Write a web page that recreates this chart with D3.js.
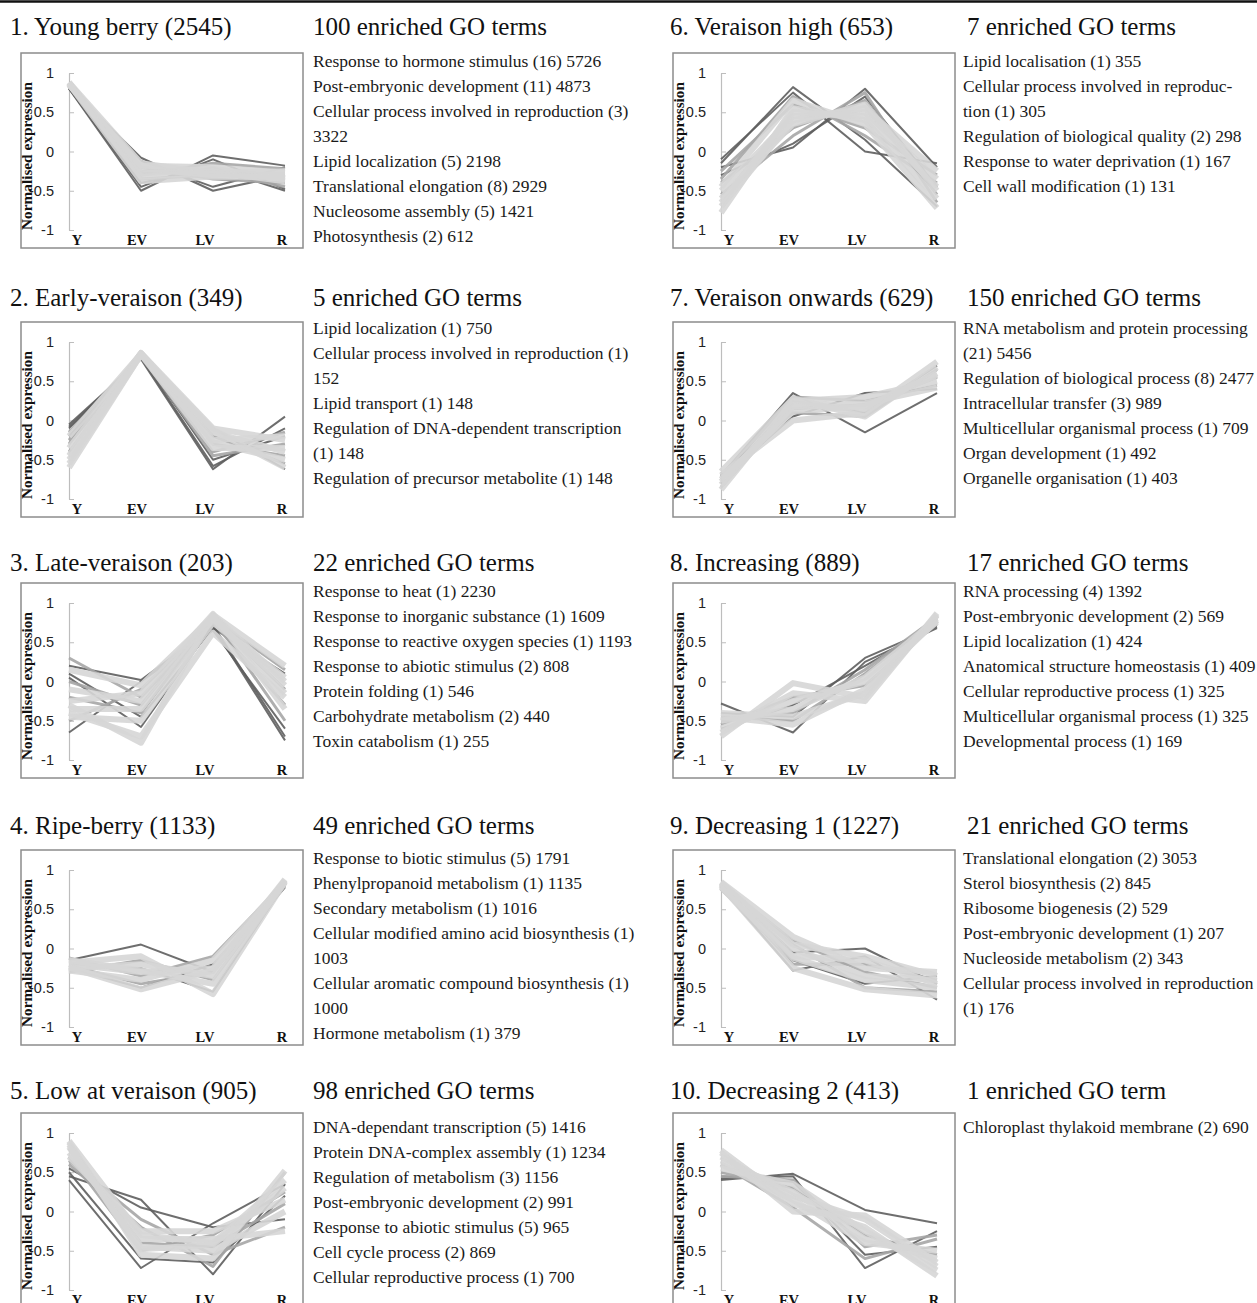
<!DOCTYPE html>
<html>
<head>
<meta charset="utf-8">
<script src="https://cdn.jsdelivr.net/npm/d3@7"></script>
<style>
html, body { margin: 0; padding: 0; background: #fff; overflow: hidden; }
svg { display: block; }
</style>
</head>
<body>
<svg id="chart"></svg>
<script>
'use strict';

// --- data ---
const stages = ['Y', 'EV', 'LV', 'R'];
const yTicks = [1, 0.5, 0, -0.5, -1];

const clusterNames = [
	'1. Young berry', '2. Early-veraison', '3. Late-veraison', '4. Ripe-berry', '5. Low at veraison',
	'6. Veraison high', '7. Veraison onwards', '8. Increasing', '9. Decreasing 1', '10. Decreasing 2'
];
const clusterSizes = [2545, 349, 203, 1133, 905, 653, 629, 889, 1227, 413];
const goCounts = [100, 5, 22, 49, 98, 7, 150, 17, 21, 1];

// '\n' marks where the original text wraps
const goTerms = [
	['Response to hormone stimulus (16) 5726', 'Post-embryonic development (11) 4873',
		'Cellular process involved in reproduction (3)\n3322', 'Lipid localization (5) 2198',
		'Translational elongation (8) 2929', 'Nucleosome assembly (5) 1421', 'Photosynthesis (2) 612'],
	['Lipid localization (1) 750', 'Cellular process involved in reproduction (1)\n152',
		'Lipid transport (1) 148', 'Regulation of DNA-dependent transcription\n(1) 148',
		'Regulation of precursor metabolite (1) 148'],
	['Response to heat (1) 2230', 'Response to inorganic substance (1) 1609',
		'Response to reactive oxygen species (1) 1193', 'Response to abiotic stimulus (2) 808',
		'Protein folding (1) 546', 'Carbohydrate metabolism (2) 440', 'Toxin catabolism (1) 255'],
	['Response to biotic stimulus (5) 1791', 'Phenylpropanoid metabolism (1) 1135',
		'Secondary metabolism (1) 1016', 'Cellular modified amino acid biosynthesis (1)\n1003',
		'Cellular aromatic compound biosynthesis (1)\n1000', 'Hormone metabolism (1) 379'],
	['DNA-dependant transcription (5) 1416', 'Protein DNA-complex assembly (1) 1234',
		'Regulation of metabolism (3) 1156', 'Post-embryonic development (2) 991',
		'Response to abiotic stimulus (5) 965', 'Cell cycle process (2) 869',
		'Cellular reproductive process (1) 700'],
	['Lipid localisation (1) 355', 'Cellular process involved in reproduc-\ntion (1) 305',
		'Regulation of biological quality (2) 298', 'Response to water deprivation (1) 167',
		'Cell wall modification (1) 131'],
	['RNA metabolism and protein processing\n(21) 5456', 'Regulation of biological process (8) 2477',
		'Intracellular transfer (3) 989', 'Multicellular organismal process (1) 709',
		'Organ development (1) 492', 'Organelle organisation (1) 403'],
	['RNA processing (4) 1392', 'Post-embryonic development (2) 569', 'Lipid localization (1) 424',
		'Anatomical structure homeostasis (1) 409', 'Cellular reproductive process (1) 325',
		'Multicellular organismal process (1) 325', 'Developmental process (1) 169'],
	['Translational elongation (2) 3053', 'Sterol biosynthesis (2) 845', 'Ribosome biogenesis (2) 529',
		'Post-embryonic development (1) 207', 'Nucleoside metabolism (2) 343',
		'Cellular process involved in reproduction\n(1) 176'],
	['Chloroplast thylakoid membrane (2) 690']
];

// expression profiles [Y, EV, LV, R]; outliers drawn dark, the bulk of genes light
const darkProfiles = [
	[[0.80, -0.50, -0.05, -0.18], [0.82, -0.08, -0.50, -0.30], [0.81, -0.45, -0.10, -0.48], [0.83, -0.12, -0.45, -0.20], [0.80, -0.40, -0.20, -0.50]],
	[[-0.05, 0.78, -0.62, 0.05], [-0.10, 0.80, -0.58, -0.10], [-0.20, 0.82, -0.50, -0.20], [-0.08, 0.80, -0.10, -0.62]],
	[[0.20, 0.02, 0.70, -0.75], [0.05, -0.58, 0.72, -0.70], [-0.65, 0.00, 0.65, -0.60], [0.10, -0.45, 0.68, 0.10]],
	[[-0.15, 0.05, -0.30, 0.78], [-0.25, -0.50, -0.20, 0.80], [-0.20, -0.25, -0.55, 0.82]],
	[[0.45, 0.15, -0.80, 0.35], [0.40, -0.72, -0.15, 0.35], [0.50, -0.60, -0.65, 0.20], [0.55, 0.05, -0.20, -0.10]],
	[[-0.20, 0.05, 0.80, -0.20], [-0.15, 0.82, 0.15, -0.70], [-0.30, 0.10, 0.70, -0.45], [-0.10, 0.75, 0.00, -0.15]],
	[[-0.70, 0.35, -0.15, 0.35], [-0.75, 0.05, 0.35, 0.40], [-0.80, 0.25, 0.10, 0.70]],
	[[-0.28, -0.65, 0.25, 0.68], [-0.40, -0.45, 0.30, 0.70], [-0.60, -0.30, 0.20, 0.72]],
	[[0.78, -0.28, -0.10, -0.65], [0.80, -0.05, 0.00, -0.45], [0.75, -0.15, -0.45, -0.35]],
	[[0.40, 0.48, 0.02, -0.15], [0.42, 0.45, -0.72, -0.25], [0.45, 0.38, -0.55, -0.45]]
];
const midProfiles = [
	[[0.85, -0.30, -0.15, -0.22], [0.86, -0.20, -0.35, -0.40], [0.84, -0.35, -0.30, -0.28], [0.87, -0.25, -0.25, -0.45]],
	[[-0.15, 0.83, -0.40, -0.15], [-0.30, 0.84, -0.30, -0.45], [-0.40, 0.83, -0.45, -0.30], [-0.25, 0.85, -0.20, -0.55]],
	[[0.30, -0.20, 0.75, -0.30], [-0.20, -0.40, 0.80, 0.15], [-0.50, -0.10, 0.78, -0.10], [0.00, -0.30, 0.82, -0.50]],
	[[-0.12, -0.35, -0.10, 0.85], [-0.30, -0.15, -0.40, 0.83], [-0.22, -0.45, -0.30, 0.80]],
	[[0.60, -0.20, -0.70, 0.50], [0.70, -0.50, -0.30, 0.25], [0.65, -0.10, -0.55, -0.20], [0.80, -0.40, -0.45, 0.10]],
	[[-0.40, 0.30, 0.65, -0.55], [-0.25, 0.60, 0.30, -0.30], [-0.55, 0.20, 0.75, -0.65], [-0.35, 0.70, 0.20, -0.40]],
	[[-0.72, 0.30, 0.25, 0.45], [-0.85, 0.15, 0.20, 0.55], [-0.68, 0.10, 0.05, 0.65]],
	[[-0.45, -0.50, 0.10, 0.80], [-0.55, -0.20, -0.05, 0.75], [-0.50, -0.40, 0.15, 0.82]],
	[[0.82, 0.10, -0.30, -0.50], [0.80, -0.20, -0.20, -0.40], [0.76, 0.05, -0.50, -0.55]],
	[[0.50, 0.30, -0.30, -0.55], [0.60, 0.05, -0.60, -0.35], [0.45, 0.40, -0.45, -0.30]]
];
const lightProfiles = [
	[[0.88, -0.15, -0.28, -0.25], [0.87, -0.28, -0.22, -0.35], [0.86, -0.22, -0.30, -0.30], [0.88, -0.32, -0.26, -0.38], [0.85, -0.18, -0.20, -0.27], [0.86, -0.38, -0.32, -0.33]],
	[[-0.35, 0.86, -0.15, -0.40], [-0.50, 0.85, -0.25, -0.20], [-0.60, 0.84, -0.35, -0.35], [-0.45, 0.86, -0.10, -0.25], [-0.20, 0.85, -0.28, -0.50], [-0.55, 0.84, -0.12, -0.60]],
	[[-0.30, -0.78, 0.85, 0.20], [-0.40, -0.70, 0.62, -0.20], [-0.10, -0.25, 0.84, 0.00], [-0.35, -0.35, 0.80, -0.05], [-0.25, -0.15, 0.86, -0.35], [-0.45, -0.50, 0.75, 0.05], [0.15, -0.05, 0.83, -0.15]],
	[[-0.20, -0.30, -0.25, 0.86], [-0.25, -0.20, -0.35, 0.87], [-0.28, -0.40, -0.15, 0.84], [-0.18, -0.10, -0.58, 0.85], [-0.24, -0.52, -0.28, 0.88], [-0.15, -0.28, -0.45, 0.86]],
	[[0.90, -0.30, -0.40, 0.40], [0.85, -0.45, -0.50, 0.00], [0.75, -0.35, -0.35, -0.25], [0.88, -0.55, -0.60, 0.52], [0.70, -0.25, -0.25, 0.15], [0.82, -0.48, -0.42, 0.30]],
	[[-0.50, 0.45, 0.50, -0.35], [-0.78, 0.55, 0.40, -0.60], [-0.60, 0.35, 0.60, -0.50], [-0.45, 0.65, 0.35, -0.72], [-0.70, 0.40, 0.55, -0.25], [-0.65, 0.50, 0.45, -0.45]],
	[[-0.78, 0.20, 0.15, 0.60], [-0.88, 0.25, 0.30, 0.50], [-0.70, 0.00, 0.10, 0.75], [-0.82, 0.18, 0.22, 0.42], [-0.75, 0.12, 0.18, 0.58], [-0.65, 0.28, 0.05, 0.68]],
	[[-0.70, -0.02, -0.20, 0.85], [-0.45, -0.55, -0.10, 0.78], [-0.65, -0.15, -0.25, 0.87], [-0.50, -0.35, 0.05, 0.80], [-0.40, -0.45, -0.15, 0.84], [-0.60, -0.25, 0.00, 0.76]],
	[[0.85, 0.15, -0.25, -0.30], [0.82, -0.10, -0.15, -0.45], [0.84, 0.00, -0.35, -0.40], [0.80, -0.25, -0.52, -0.60], [0.83, 0.05, -0.10, -0.35], [0.78, -0.12, -0.40, -0.50]],
	[[0.78, 0.10, -0.20, -0.82], [0.70, 0.20, -0.10, -0.70], [0.65, 0.25, -0.35, -0.60], [0.55, 0.35, -0.25, -0.75], [0.75, 0.00, -0.05, -0.65], [0.60, 0.15, -0.40, -0.50]]
];

// --- layout ---
const opts = {
	width: 1257,
	height: 1303,
	boxW: 282,
	boxH: 195,
	lineGap: 25,
	serif: '"Liberation Serif", "Times New Roman", serif',
	sans: '"Liberation Sans", Arial, sans-serif'
};
const boxTop = [53, 322, 583, 850, 1113];
const titleBase = [35, 306, 571, 834, 1099];
const listBase = [67, 334, 597, 864, 1133];
const titleX = [10, 670];
const boxX = [21, 673];
const goTitleX = [313, 967];
const listX = [313, 963];
const labelShift = [8, -4, -8, -3]; // category labels sit a little off their points

const svg = d3.select('#chart')
	.attr('width', opts.width)
	.attr('height', opts.height);

svg.append('line')
	.attr('x1', 0).attr('x2', opts.width)
	.attr('y1', 1.5).attr('y2', 1.5)
	.attr('stroke', '#111')
	.attr('stroke-width', 2.5);

const x = d3.scalePoint().domain(stages).range([48, 264]);
const y = d3.scaleLinear().domain([-1, 1]).range([177, 20]);

const line = d3.line()
	.x((d, i) => x(stages[i]))
	.y(d => y(d));

const drawPanel = (k) => {
	const col = Math.floor(k / 5);
	const row = k % 5;

	// cluster title and GO header
	svg.append('text')
		.attr('x', titleX[col]).attr('y', titleBase[row])
		.attr('font-family', opts.serif).attr('font-size', 25).attr('fill', '#111')
		.text(`${clusterNames[k]} (${clusterSizes[k]})`);

	svg.append('text')
		.attr('x', goTitleX[col]).attr('y', titleBase[row])
		.attr('font-family', opts.serif).attr('font-size', 25).attr('fill', '#111')
		.text(`${goCounts[k]} enriched GO term${goCounts[k] === 1 ? '' : 's'}`);

	// GO term list, wrapped lines follow on
	const lines = goTerms[k].flatMap(t => t.split('\n'));
	svg.append('g')
		.selectAll('text')
		.data(lines)
		.join('text')
		.attr('x', listX[col])
		.attr('y', (d, i) => listBase[row] + i * opts.lineGap)
		.attr('font-family', opts.serif).attr('font-size', 17.5).attr('fill', '#1a1a1a')
		.text(d => d);

	// the plot box
	const g = svg.append('g')
		.attr('transform', `translate(${boxX[col]}, ${boxTop[row]})`);

	g.append('rect')
		.attr('x', 0).attr('y', 0)
		.attr('width', opts.boxW).attr('height', opts.boxH)
		.attr('fill', '#fff')
		.attr('stroke', '#8c8c8c')
		.attr('stroke-width', 1.5);

	const axis = g.append('g')
		.attr('transform', `translate(${x('Y')}, 0)`)
		.call(d3.axisLeft(y).tickValues(yTicks).tickSizeInner(-5).tickSizeOuter(0).tickPadding(15)
			.tickFormat(d => String(d)));
	axis.select('.domain').attr('stroke', '#bdbdbd').attr('stroke-width', 1.2);
	axis.selectAll('.tick line').attr('stroke', '#bdbdbd');
	axis.selectAll('.tick text')
		.attr('font-family', opts.sans).attr('font-size', 14.5).attr('fill', '#222');

	const lineGroups = [
		{ rows: darkProfiles[k], color: '#5e5e5e', width: 2 },
		{ rows: midProfiles[k], color: '#a6a6a6', width: 3 },
		{ rows: lightProfiles[k], color: '#d6d6d6', width: 6 }
	];
	lineGroups.forEach(grp => {
		g.append('g')
			.selectAll('path')
			.data(grp.rows)
			.join('path')
			.attr('d', line)
			.attr('fill', 'none')
			.attr('stroke', grp.color)
			.attr('stroke-width', grp.width)
			.attr('stroke-linejoin', 'round')
			.attr('stroke-opacity', 0.9);
	});

	g.append('g')
		.selectAll('text')
		.data(stages)
		.join('text')
		.attr('x', (d, i) => x(d) + labelShift[i])
		.attr('y', 192)
		.attr('text-anchor', 'middle')
		.attr('font-family', opts.serif).attr('font-weight', 'bold').attr('font-size', 14.5)
		.attr('fill', '#111')
		.text(d => d);

	g.append('text')
		.attr('transform', `translate(11, 103) rotate(-90)`)
		.attr('text-anchor', 'middle')
		.attr('font-family', opts.serif).attr('font-weight', 'bold').attr('font-size', 15.3)
		.attr('fill', '#111')
		.text('Normalised expression');
};

d3.range(clusterNames.length).forEach(drawPanel);
</script>
</body>
</html>
